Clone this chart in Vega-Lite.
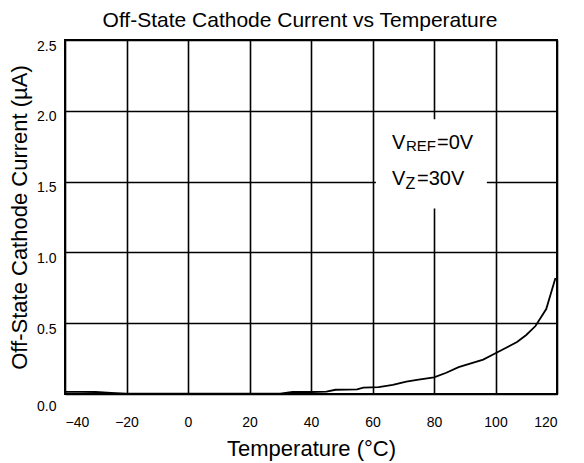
{
  "$schema": "https://vega.github.io/schema/vega-lite/v6.json",
  "width": 492,
  "height": 354,
  "autosize": {"type": "none"},
  "padding": {"left": 65, "top": 40, "right": 27, "bottom": 69},
  "background": "white",
  "config": {
    "font": "Liberation Sans",
    "view": {"stroke": "black", "strokeWidth": 2},
    "axis": {
      "grid": true, "gridColor": "black", "gridWidth": 1.6, "gridOpacity": 1,
      "domain": false, "ticks": false,
      "labelFont": "Liberation Sans", "labelFontSize": 14, "labelColor": "black",
      "titleFont": "Liberation Sans", "titleFontSize": 22, "titleFontWeight": "normal", "titleColor": "black"
    }
  },
  "title": {
    "text": "Off-State Cathode Current vs Temperature",
    "font": "Liberation Sans", "fontSize": 21, "fontWeight": "normal", "color": "black",
    "anchor": "middle", "offset": 8, "dx": -11
  },
  "datasets": {
    "curve": [
      {"T": -40, "I": 0.015}, {"T": -35, "I": 0.015}, {"T": -30, "I": 0.014},
      {"T": -25, "I": 0.008}, {"T": -20, "I": 0.003}, {"T": -10, "I": 0.002},
      {"T": 0, "I": 0.002}, {"T": 10, "I": 0.002}, {"T": 20, "I": 0.002},
      {"T": 30, "I": 0.003}, {"T": 34, "I": 0.015}, {"T": 40, "I": 0.014},
      {"T": 45, "I": 0.017}, {"T": 48, "I": 0.03}, {"T": 55, "I": 0.033},
      {"T": 57, "I": 0.045}, {"T": 62, "I": 0.048}, {"T": 66.6, "I": 0.064},
      {"T": 71, "I": 0.088}, {"T": 75, "I": 0.102}, {"T": 80, "I": 0.117},
      {"T": 84, "I": 0.15}, {"T": 88, "I": 0.19}, {"T": 96, "I": 0.243},
      {"T": 100, "I": 0.288}, {"T": 107, "I": 0.367}, {"T": 110, "I": 0.417},
      {"T": 113, "I": 0.48}, {"T": 116.5, "I": 0.6}, {"T": 119.5, "I": 0.82}
    ],
    "box": [{"x1": 61.1, "x2": 97.2, "y1": 1.31, "y2": 1.94}],
    "big": [
      {"t": "V", "x": 66.34, "y": 1.73},
      {"t": "=0V", "x": 80.98, "y": 1.73},
      {"t": "V", "x": 66.34, "y": 1.476},
      {"t": "=30V", "x": 74.47, "y": 1.476}
    ],
    "sub": [
      {"t": "REF", "x": 70.89, "y": 1.718, "s": "r"},
      {"t": "Z", "x": 70.73, "y": 1.448, "s": "z"}
    ]
  },
  "encoding": {},
  "layer": [
    {
      "data": {"name": "curve"},
      "mark": {"type": "line", "color": "black", "strokeWidth": 1.8},
      "encoding": {
        "x": {"field": "T", "type": "quantitative",
              "scale": {"domain": [-40, 120], "nice": false},
              "axis": {"values": [-40, -20, 0, 20, 40, 60, 80, 100, 120], "format": "d",
                       "labelPadding": 21, "title": "Temperature (°C)", "titlePadding": 9}},
        "y": {"field": "I", "type": "quantitative",
              "scale": {"domain": [0, 2.5], "nice": false},
              "axis": {"values": [0, 0.5, 1, 1.5, 2, 2.5], "format": ".1f",
                       "labelPadding": 9, "labelBaseline": "middle",
                       "labelOffset": {"condition": {"test": "datum.value == 0", "value": 12}, "value": 6},
                       "title": "Off-State Cathode Current (µA)", "titlePadding": 5}}
      }
    },
    {
      "data": {"name": "box"},
      "mark": {"type": "rect", "color": "white"},
      "encoding": {
        "x": {"field": "x1", "type": "quantitative"},
        "x2": {"field": "x2"},
        "y": {"field": "y1", "type": "quantitative"},
        "y2": {"field": "y2"}
      }
    },
    {
      "data": {"name": "big"},
      "mark": {"type": "text", "align": "left", "baseline": "alphabetic", "fontSize": 20, "color": "black", "font": "Liberation Sans"},
      "encoding": {
        "x": {"field": "x", "type": "quantitative"},
        "y": {"field": "y", "type": "quantitative"},
        "text": {"field": "t"}
      }
    },
    {
      "data": {"name": "sub"},
      "transform": [{"filter": "datum.s == 'r'"}],
      "mark": {"type": "text", "align": "left", "baseline": "alphabetic", "fontSize": 15, "color": "black", "font": "Liberation Sans"},
      "encoding": {
        "x": {"field": "x", "type": "quantitative"},
        "y": {"field": "y", "type": "quantitative"},
        "text": {"field": "t"}
      }
    },
    {
      "data": {"name": "sub"},
      "transform": [{"filter": "datum.s == 'z'"}],
      "mark": {"type": "text", "align": "left", "baseline": "alphabetic", "fontSize": 16, "color": "black", "font": "Liberation Sans"},
      "encoding": {
        "x": {"field": "x", "type": "quantitative"},
        "y": {"field": "y", "type": "quantitative"},
        "text": {"field": "t"}
      }
    }
  ]
}
